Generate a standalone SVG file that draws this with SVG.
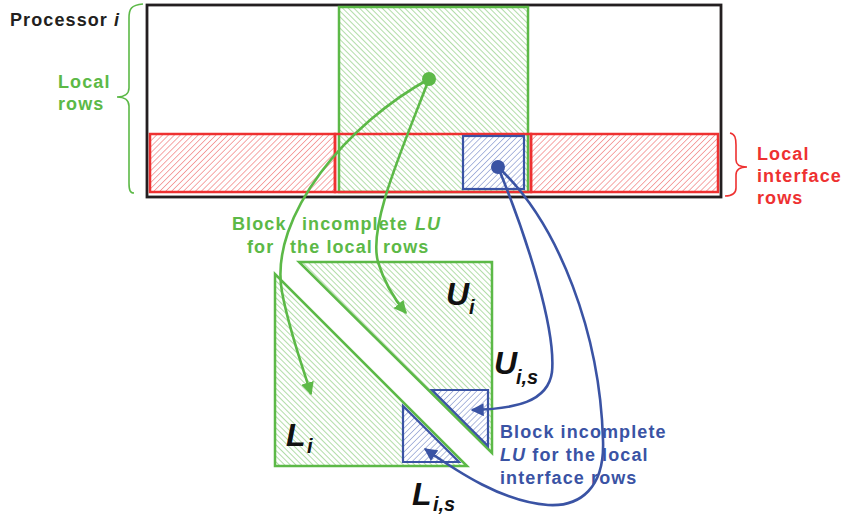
<svg xmlns="http://www.w3.org/2000/svg" width="844" height="521" viewBox="0 0 844 521">
<style>
text{font-family:"Liberation Sans",Arial,sans-serif;font-weight:bold;}
.lbl{font-size:18px;letter-spacing:1.1px;}
.g{fill:#5cb947;} .r{fill:#ee3131;} .b{fill:#3a53a4;} .k{fill:#231f20;}
.big{font-size:32px;font-style:italic;fill:#111;}
.sub{font-size:20px;font-style:italic;fill:#111;}
.conn{fill:none;stroke-width:2.6;}
</style>
<defs>
<pattern id="hg" patternUnits="userSpaceOnUse" width="4" height="4" patternTransform="rotate(-45)">
<line x1="0" y1="0" x2="0" y2="4" stroke="#72c160" stroke-width="1.1"/>
</pattern>
<pattern id="hr" patternUnits="userSpaceOnUse" width="4.2" height="4.2" patternTransform="rotate(45)">
<line x1="0" y1="0" x2="0" y2="4.2" stroke="#ee6060" stroke-width="1.1"/>
</pattern>
<pattern id="hb" patternUnits="userSpaceOnUse" width="4.2" height="4.2" patternTransform="rotate(45)">
<line x1="0" y1="0" x2="0" y2="4.2" stroke="#6f82c4" stroke-width="1.1"/>
</pattern>
<marker id="ag" viewBox="0 0 10 10" refX="9" refY="5" markerWidth="5" markerHeight="5" orient="auto" markerUnits="strokeWidth">
<path d="M0,0 L10,5 L0,10 z" fill="#5cb947"/>
</marker>
<marker id="ab" viewBox="0 0 10 10" refX="9" refY="5" markerWidth="5" markerHeight="5" orient="auto" markerUnits="strokeWidth">
<path d="M0,0 L10,5 L0,10 z" fill="#3a53a4"/>
</marker>
</defs>
<rect width="844" height="521" fill="#fff"/>

<g id="processor">
<rect x="147" y="5" width="574" height="192" fill="none" stroke="#231f20" stroke-width="2.8"/>
<text class="lbl k" x="10" y="26">Processor <tspan font-style="italic">i</tspan></text>
</g>

<g id="local-rows-block">
<rect x="150" y="134" width="185" height="58" fill="url(#hr)" stroke="none"/>
<rect x="531" y="134" width="187" height="58" fill="url(#hr)" stroke="none"/>
<rect x="339" y="7" width="189" height="185" fill="url(#hg)" stroke="#5cb947" stroke-width="2.5"/>
</g>

<g id="interface-rows">
<rect x="150" y="134" width="185" height="58" fill="none" stroke="#ee3131" stroke-width="2.5"/>
<rect x="335" y="134" width="196" height="58" fill="none" stroke="#ee3131" stroke-width="2.5"/>
<rect x="531" y="134" width="187" height="58" fill="none" stroke="#ee3131" stroke-width="2.5"/>
</g>

<g id="interface-block">
<rect x="463" y="136" width="61" height="53" fill="#fff"/>
<rect x="463" y="136" width="61" height="53" fill="url(#hb)" stroke="#3a53a4" stroke-width="2.2"/>
</g>

<g id="local-rows-label">
<path d="M143,4 C131,5 129,9 129,18 L129,88 C129,94 124,97 117,97 C124,97 129,100 129,106 L129,183 C129,190 130,193 134,193" fill="none" stroke="#5cb947" stroke-width="1.6"/>
<text class="lbl g" x="58" y="88">Local</text>
<text class="lbl g" x="58" y="110">rows</text>
</g>

<g id="interface-rows-label">
<path d="M730,133 C735,134 736,138 736,145 L736,160 C736,165 740,167 747,167 C740,167 736,170 736,175 L736,188 C736,194 732,196 725,196" fill="none" stroke="#ee3131" stroke-width="1.6"/>
<text class="lbl r" x="757" y="160">Local</text>
<text class="lbl r" x="757" y="182">interface</text>
<text class="lbl r" x="757" y="204">rows</text>
</g>

<g id="U-i">
<polygon points="299,262 492,262 492,453" fill="url(#hg)" stroke="#5cb947" stroke-width="2.5" stroke-linejoin="miter"/>
<text class="big" x="446" y="305">U</text>
<text class="sub" x="469" y="314">i</text>
</g>

<g id="L-i">
<polygon points="275,274 275,466 467,466" fill="url(#hg)" stroke="#5cb947" stroke-width="2.5"/>
<text class="big" x="286" y="446">L</text>
<text class="sub" x="307" y="453">i</text>
</g>

<g id="U-is">
<polygon points="432,390 488,390 488,446" fill="#fff"/>
<polygon points="432,390 488,390 488,446" fill="url(#hb)" stroke="#3a53a4" stroke-width="2.2"/>
<text class="big" x="494" y="374">U</text>
<text class="sub" x="516" y="384">i,s</text>
</g>

<g id="L-is">
<polygon points="403,406 403,462 459,462" fill="#fff"/>
<polygon points="403,406 403,462 459,462" fill="url(#hb)" stroke="#3a53a4" stroke-width="2.2"/>
<text class="big" x="412" y="505">L</text>
<text class="sub" x="433" y="511">i,s</text>
</g>

<g id="connectors">
<path class="conn" stroke="#5cb947" d="M429,79 C350,122 268,215 282,292 C289,330 302,365 311,394" marker-end="url(#ag)"/>
<path class="conn" stroke="#5cb947" d="M429,79 C402,150 368,225 378,262 C385,285 395,300 406,313" marker-end="url(#ag)"/>
<path class="conn" stroke="#3a53a4" d="M498,167 C528,240 556,330 552,372 C548,402 515,409 472,410" marker-end="url(#ab)"/>
<path class="conn" stroke="#3a53a4" d="M498,167 C560,225 600,335 603,440 C605,488 580,507 548,505 C503,502 458,472 425,449" marker-end="url(#ab)"/>
<circle cx="429" cy="79" r="7" fill="#5cb947"/>
<circle cx="498" cy="167" r="7" fill="#3a53a4"/>
</g>

<g id="green-label">
<text class="lbl g" x="232" y="230">Block</text>
<text class="lbl g" x="302" y="230">incomplete</text>
<text class="lbl g" x="415" y="230" font-style="italic">LU</text>
<text class="lbl g" x="247" y="253">for</text>
<text class="lbl g" x="290" y="253">the local</text>
<text class="lbl g" x="383" y="253">rows</text>
</g>

<g id="blue-label">
<text class="lbl b" x="500" y="438">Block incomplete</text>
<text class="lbl b" x="500" y="461"><tspan font-style="italic">LU</tspan> for the  local</text>
<text class="lbl b" x="500" y="484">interface  rows</text>
</g>
</svg>
